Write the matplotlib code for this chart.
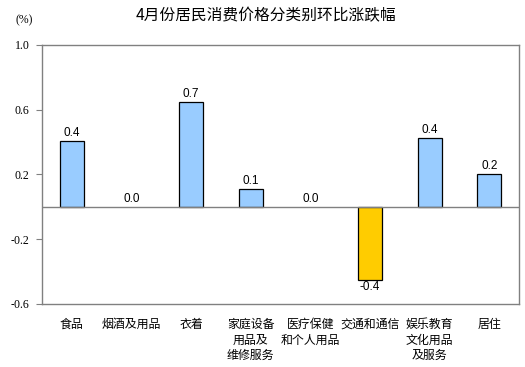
import numpy as np
import matplotlib.pyplot as plt

# data
categories = ['食品', '烟酒及用品', '衣着', '家庭设备\n用品及\n维修服务', '医疗保健\n和个人用品',
              '交通和通信', '娱乐教育\n文化用品\n及服务', '居住']
values = [0.405, 0.0, 0.646, 0.109, 0.0, -0.452, 0.424, 0.202]
value_labels = ['0.4', '0.0', '0.7', '0.1', '0.0', '-0.4', '0.4', '0.2']
yticks = [1.0, 0.6, 0.2, -0.2, -0.6]
title = '4月份居民消费价格分类别环比涨跌幅'

cjk = ['Noto Sans CJK SC', 'DejaVu Sans']
grey = '#808080'

fig = plt.figure(figsize=(5.25, 3.67), dpi=100)
ax = fig.add_axes([0.08, 0.1717, 0.9086, 0.7057])

x = np.arange(len(categories))
colors = ['#FFCC00' if v < 0 else '#99CCFF' for v in values]
# zero bars have no visible outline in the original
lws = [0.9 if v != 0 else 0 for v in values]
ax.bar(x, values, width=0.4, color=colors, edgecolor='black', linewidth=lws, zorder=3)
ax.axhline(0, color=grey, linewidth=1.0, zorder=4)

for xi, v, s in zip(x, values, value_labels):
    if v < 0:
        ax.text(xi, v - 0.005, s, ha='center', va='top', fontsize=8.5,
                family='Liberation Sans', zorder=5)
    else:
        ax.text(xi, v + 0.012, s, ha='center', va='bottom', fontsize=8.5,
                family='Liberation Sans', zorder=5)

ax.set_xlim(-0.5, len(categories) - 0.5)
ax.set_ylim(-0.6, 1.0)
ax.set_yticks(yticks)
ax.set_yticklabels(['%.1f' % t for t in yticks], family='Liberation Serif', fontsize=8.6)
ax.tick_params(axis='y', length=4, width=0.8, color=grey, pad=5)
ax.set_xticks([])

for side in ['left', 'right', 'top', 'bottom']:
    ax.spines[side].set_color(grey)
    ax.spines[side].set_linewidth(1.0)

for xi, c in zip(x, categories):
    ax.annotate(c, xy=(xi, -0.6), xycoords='data', xytext=(0, -10),
                textcoords='offset points', ha='center', va='top',
                fontsize=8.6, family=cjk, linespacing=1.25)

fig.text(266 / 525, 1 - 16 / 367, title, ha='center', va='center',
         fontsize=11.3, family=cjk)
fig.text(16 / 525, 1 - 20 / 367, '(%)', ha='left', va='center',
         fontsize=8.5, family='Liberation Serif')

fig.savefig('out.png', dpi=100)
